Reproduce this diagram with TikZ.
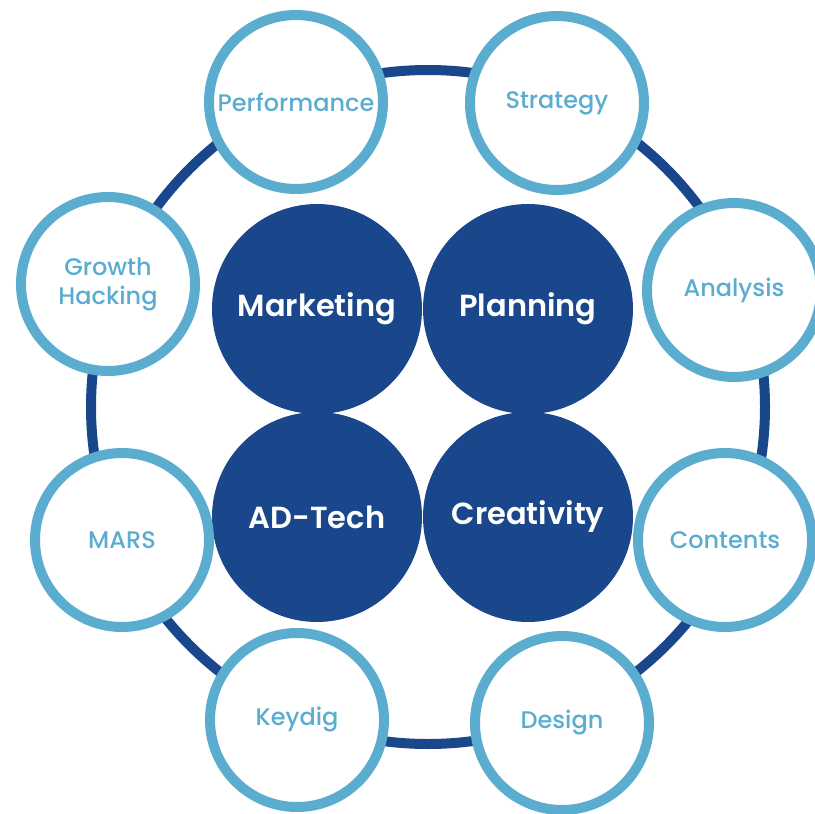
\documentclass[tikz,border=0pt]{standalone}
\usepackage{fontspec}
\setmainfont{Poppins}
\newfontfamily\medfont{Poppins Medium}
\newfontfamily\semifont{Poppins SemiBold}
\definecolor{darkblue}{HTML}{1A468B}
\definecolor{lightblue}{HTML}{5BADD0}
\begin{document}
\begin{tikzpicture}[x=1pt,y=-1pt,
  outerc/.style={circle,draw=lightblue,line width=10pt,fill=white,minimum size=174pt,inner sep=0pt,
    text=lightblue,font=\medfont\fontsize{24}{29}\selectfont,align=center},
  innerc/.style={circle,fill=darkblue,minimum size=210pt,inner sep=0pt,
    text=white,font=\semifont\fontsize{30.5}{34}\selectfont,align=center},
  ringline/.style={draw=darkblue,line width=10pt}]
\useasboundingbox (0,0) rectangle (815,814);
\clip (0,0) rectangle (815,814);
\coordinate (c) at (428,407);
\draw[ringline] (c) circle[radius=337];
\node[innerc] (mkt) at (317,309) {Marketing};
\node[innerc] (pln) at (528,309) {Planning};
\node[innerc] (adt) at (317,517) {AD-Tech};
\node[innerc] (cre) at (528,517) {Creativity};
\node[outerc] (perf) at (296,102) {Performance};
\node[outerc] (strat) at (557,103) {Strategy};
\node[outerc] (ana) at (734,290) {Analysis};
\node[outerc] (cont) at (725,540) {Contents};
\node[outerc] (des) at (562,723) {Design};
\node[outerc] (key) at (297,720) {Keydig};
\node[outerc] (mars) at (122,540) {MARS};
\node[outerc] (gro) at (108,284) {Growth\\Hacking};
\end{tikzpicture}
\end{document}
